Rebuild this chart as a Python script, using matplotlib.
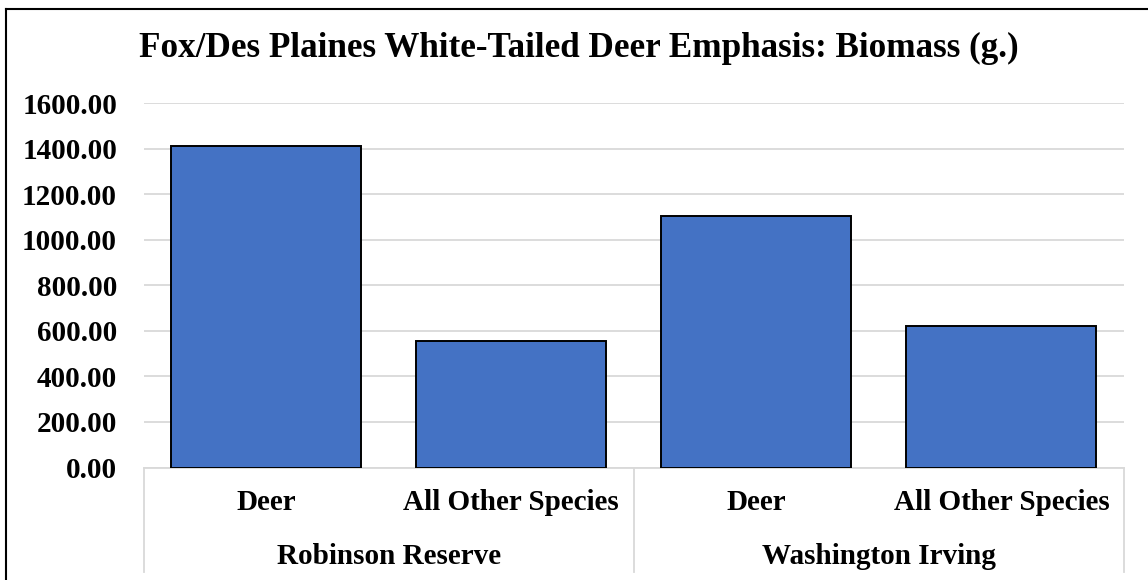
import matplotlib
matplotlib.use("Agg")
import matplotlib.pyplot as plt
import matplotlib.transforms as mtransforms

categories = ["Deer", "All Other Species", "Deer", "All Other Species"]
sites = ["Robinson Reserve", "Washington Irving"]
biomass = [1410, 555, 1102, 620]
yticks = [0, 200, 400, 600, 800, 1000, 1200, 1400, 1600]

plt.rcParams['font.family'] = ['Liberation Serif', 'DejaVu Serif']
plt.rcParams['font.weight'] = 'bold'

fig = plt.figure(figsize=(11.48, 5.8), dpi=100)
W, H = 1148, 580
ax = fig.add_axes([143.5 / W, 1 - 467.5 / H, (1124 - 143.5) / W, (467.5 - 103) / H])

x = range(len(biomass))
ax.bar(x, biomass, width=0.775, color='#4472C4', edgecolor='black', linewidth=1.4, zorder=3)

ax.set_xlim(-0.5, len(biomass) - 0.5)
ax.set_ylim(0, 1600)
ax.set_yticks(yticks)
ax.set_yticklabels([f"{v:.2f}" for v in yticks], fontsize=21, fontweight='bold')
ax.tick_params(axis='y', length=0, pad=19)
ax.set_xticks([])
ax.grid(axis='y', color='#D9D9D9', linewidth=1.3, zorder=0)
for s in ax.spines.values():
    s.set_visible(False)

# category table below the plot
trans = mtransforms.blended_transform_factory(ax.transData, ax.transAxes)
ax.plot([-0.5, 3.5], [0, 0], transform=trans, color='#D9D9D9', lw=1.3, clip_on=False, zorder=2)
bottom = -(572 - 467.5) / (467.5 - 103)
for xv in [-0.5, 1.5, 3.5]:
    ax.plot([xv, xv], [0, bottom], transform=trans, color='#D9D9D9', lw=1.3, clip_on=False)

for i, c in enumerate(categories):
    ax.text(i, -(503 - 467.5) / 364.5, c, transform=trans, ha='center', va='center',
            fontsize=21, fontweight='bold')
for j, s in enumerate(sites):
    ax.text(2 * j + 0.5, -(556 - 467.5) / 364.5, s, transform=trans, ha='center', va='center',
            fontsize=21, fontweight='bold')

fig.text(0.504, 1 - 48 / H, "Fox/Des Plaines White-Tailed Deer Emphasis: Biomass (g.)",
         ha='center', va='center', fontsize=25.3, fontweight='bold')

# outer chart border (right and bottom edges fall outside the image)
fig.add_artist(plt.Line2D([6 / W, 6 / W], [0, 1 - 9 / H], transform=fig.transFigure, color='black', lw=1.5))
fig.add_artist(plt.Line2D([6 / W, 1], [1 - 9 / H, 1 - 9 / H], transform=fig.transFigure, color='black', lw=1.5))

fig.savefig("out.png", dpi=100)
